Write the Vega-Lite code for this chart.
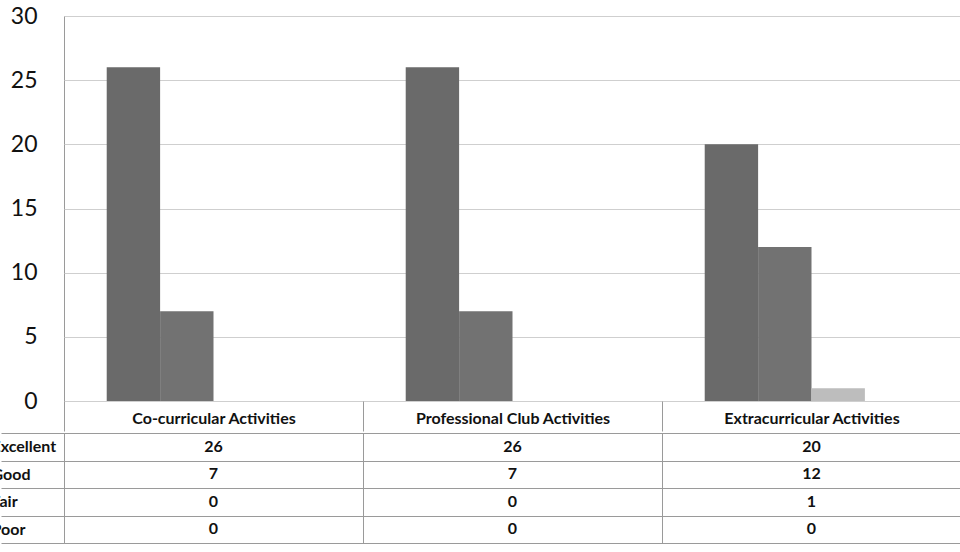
{
  "$schema": "https://vega.github.io/schema/vega-lite/v6.json",
  "padding": {"left": -10, "top": 4, "right": 0, "bottom": 0},
  "background": "white",
  "config": {
    "font": "Lato",
    "view": {"stroke": "#9a9a9a", "strokeWidth": 1},
    "concat": {"spacing": 0}
  },
  "spacing": -8,
  "datasets": {
    "survey": [
      {"activity": "Co-curricular Activities", "rating": "Excellent", "count": 26},
      {"activity": "Co-curricular Activities", "rating": "Good", "count": 7},
      {"activity": "Co-curricular Activities", "rating": "Fair", "count": 0},
      {"activity": "Co-curricular Activities", "rating": "Poor", "count": 0},
      {"activity": "Professional Club Activities", "rating": "Excellent", "count": 26},
      {"activity": "Professional Club Activities", "rating": "Good", "count": 7},
      {"activity": "Professional Club Activities", "rating": "Fair", "count": 0},
      {"activity": "Professional Club Activities", "rating": "Poor", "count": 0},
      {"activity": "Extracurricular Activities", "rating": "Excellent", "count": 20},
      {"activity": "Extracurricular Activities", "rating": "Good", "count": 12},
      {"activity": "Extracurricular Activities", "rating": "Fair", "count": 1},
      {"activity": "Extracurricular Activities", "rating": "Poor", "count": 0}
    ]
  },
  "vconcat": [
    {
      "width": 897,
      "height": 385,
      "data": {"name": "survey"},
      "mark": {"type": "bar"},
      "encoding": {
        "x": {
          "field": "activity",
          "type": "nominal",
          "sort": ["Co-curricular Activities", "Professional Club Activities", "Extracurricular Activities"],
          "scale": {"paddingInner": 0, "paddingOuter": 0},
          "axis": {
            "title": null,
            "labelAngle": 0,
            "labelFontWeight": "bold",
            "labelFontSize": 16,
            "labelColor": "#111111",
            "labelLimit": 0,
            "domain": false,
            "ticks": true,
            "tickSize": 30,
            "tickColor": "#9a9a9a",
            "tickBand": "extent",
            "labelPadding": -13,
            "labelBaseline": "middle",
            "minExtent": 30,
            "maxExtent": 30
          }
        },
        "xOffset": {
          "field": "rating",
          "type": "nominal",
          "sort": ["Excellent", "Good", "Fair", "Poor"],
          "scale": {"paddingInner": 0, "paddingOuter": 0.8}
        },
        "y": {
          "field": "count",
          "type": "quantitative",
          "scale": {"domain": [0, 30]},
          "axis": {
            "title": null,
            "values": [0, 5, 10, 15, 20, 25, 30],
            "labelFontSize": 23,
            "labelColor": "#111111",
            "ticks": false,
            "domain": false,
            "labelPadding": 27,
            "gridColor": "#cfcfcf"
          }
        },
        "color": {
          "field": "rating",
          "type": "nominal",
          "sort": ["Excellent", "Good", "Fair", "Poor"],
          "scale": {"domain": ["Excellent", "Good", "Fair", "Poor"], "range": ["#6a6a6a", "#727272", "#bdbdbd", "#9e9e9e"]},
          "legend": null
        }
      }
    },
    {
      "width": 897,
      "height": 110,
      "data": {"name": "survey"},
      "mark": {"type": "text", "fontWeight": "bold", "fontSize": 16, "color": "#111111"},
      "encoding": {
        "x": {
          "field": "activity",
          "type": "nominal",
          "sort": ["Co-curricular Activities", "Professional Club Activities", "Extracurricular Activities"],
          "scale": {"paddingInner": 0, "paddingOuter": 0},
          "axis": {"title": null, "labels": false, "ticks": false, "domain": false, "grid": true, "tickBand": "extent", "gridColor": "#9a9a9a"}
        },
        "y": {
          "field": "rating",
          "type": "nominal",
          "sort": ["Excellent", "Good", "Fair", "Poor"],
          "scale": {"paddingInner": 0, "paddingOuter": 0},
          "axis": {
            "title": null,
            "domain": false,
            "ticks": true,
            "tickSize": 63,
            "tickBand": "extent",
            "tickColor": "#9a9a9a",
            "labelAlign": "left",
            "labelPadding": 10,
            "labelBaseline": "middle",
            "labelFontWeight": "bold",
            "labelFontSize": 16,
            "labelColor": "#111111",
            "grid": true,
            "gridColor": "#9a9a9a"
          }
        },
        "text": {"field": "count", "type": "quantitative"}
      }
    }
  ]
}
